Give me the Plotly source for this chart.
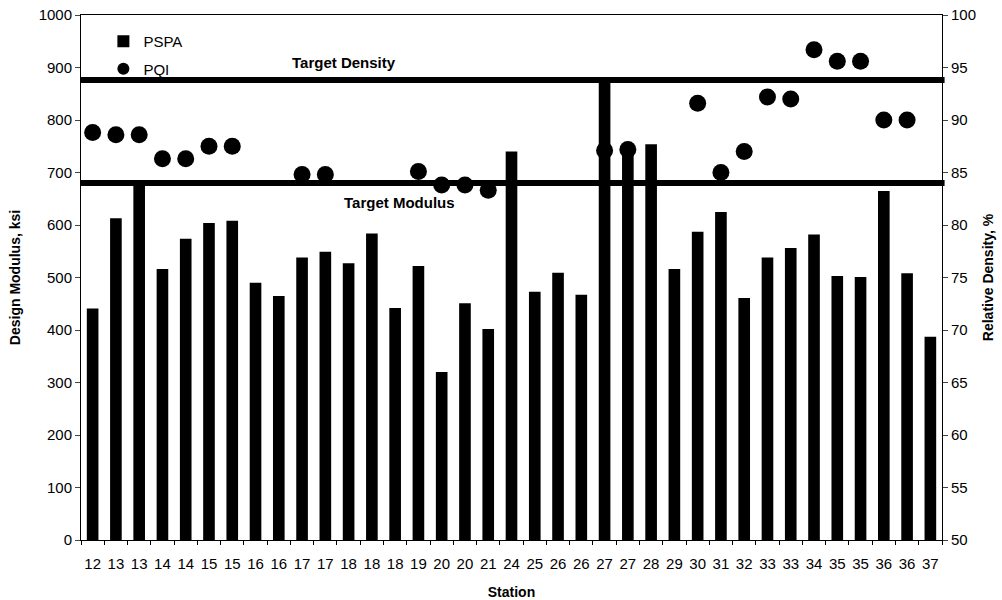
import plotly.graph_objects as go

stations = ["12", "13", "13", "14", "14", "15", "15", "16", "16", "17", "17", "18", "18", "18",
            "19", "20", "20", "21", "24", "25", "26", "26", "27", "27", "28", "29", "30", "31",
            "32", "33", "33", "34", "35", "35", "36", "36", "37"]

pspa_modulus = [441, 613, 680, 516, 574, 604, 608, 490, 465, 538, 549, 527, 584, 442,
                522, 320, 451, 402, 740, 473, 509, 467, 876, 748, 754, 516, 587, 625,
                461, 538, 556, 582, 503, 501, 665, 508, 387]

pqi_density = [88.8, 88.6, 88.6, 86.3, 86.3, 87.5, 87.5, None, None, 84.8, 84.8, None, None, None,
               85.1, 83.8, 83.8, 83.3, None, None, None, None, 87.1, 87.2, None, None, 91.6, 85.0,
               87.0, 92.2, 92.0, 96.7, 95.6, 95.6, 90.0, 90.0, None]

target_modulus = 680
target_density = 93.8

left_ticks = [0, 100, 200, 300, 400, 500, 600, 700, 800, 900, 1000]
right_ticks = [50, 55, 60, 65, 70, 75, 80, 85, 90, 95, 100]

idx = list(range(len(stations)))
FONT = "Liberation Sans, Arial, sans-serif"

fig = go.Figure()
fig.add_trace(go.Bar(x=idx, y=pspa_modulus, name="PSPA", marker=dict(color="black", line=dict(width=0)),
                     yaxis="y", legendgroup="a"))
fig.add_trace(go.Scatter(x=idx, y=pqi_density, name="PQI", mode="markers", legendgroup="b",
                         marker=dict(color="black", size=17, symbol="circle"), yaxis="y2"))

fig.add_shape(type="line", xref="paper", x0=0, x1=1.003, yref="y", y0=target_modulus, y1=target_modulus,
              line=dict(color="black", width=6))
fig.add_shape(type="line", xref="paper", x0=0, x1=1.003, yref="y2", y0=target_density, y1=target_density,
              line=dict(color="black", width=6))

fig.add_annotation(text="<b>Target Density</b>", xref="paper", yref="y", x=0.243, y=910,
                   showarrow=False, font=dict(size=15, color="black", family=FONT))
fig.add_annotation(text="<b>Target Modulus</b>", xref="paper", yref="y", x=0.37, y=643,
                   showarrow=False, font=dict(size=15, color="black", family=FONT))

fig.update_layout(
    width=1002, height=600,
    margin=dict(l=81, r=60, t=15, b=60),
    paper_bgcolor="white", plot_bgcolor="white",
    font=dict(family=FONT, size=15, color="black"),
    bargap=0.5,
    showlegend=True,
    legend=dict(x=0.026, y=0.981, xanchor="left", yanchor="top", bgcolor="rgba(0,0,0,0)",
                font=dict(size=15, family=FONT), itemsizing="constant", tracegroupgap=5,
                traceorder="grouped"),
    xaxis=dict(range=[-0.5, len(stations) - 0.5], tickmode="array", tickvals=idx, ticktext=stations,
               ticks="", showline=True, linecolor="black", linewidth=1, mirror=True, automargin=False,
               showgrid=False, zeroline=False, tickfont=dict(size=15), ticklabelstandoff=10,
               minor=dict(tickmode="array", tickvals=[i - 0.5 for i in range(len(stations) + 1)],
                          ticks="outside", ticklen=4, tickcolor="black", showgrid=False),
               title=dict(text="<b>Station</b>", font=dict(size=14), standoff=16)),
    yaxis=dict(range=[0, 1000], tickmode="array", tickvals=left_ticks, ticks="outside", ticklen=5,
               showline=True, linecolor="black", linewidth=1, showgrid=False, zeroline=False,
               tickfont=dict(size=15), automargin=False,
               title=dict(text="<b>Design Modulus, ksi</b>", font=dict(size=14), standoff=14)),
    yaxis2=dict(range=[50, 100], tickmode="array", tickvals=right_ticks, ticks="outside", ticklen=5,
                overlaying="y", side="right", showline=True, linecolor="black", linewidth=1,
                showgrid=False, zeroline=False, tickfont=dict(size=15), automargin=False,
                title=dict(text="<b>Relative Density, %</b>", font=dict(size=14), standoff=8)),
)

fig.write_html("out.html", config={"displayModeBar": False},
               post_script="document.body.style.margin='0';")
